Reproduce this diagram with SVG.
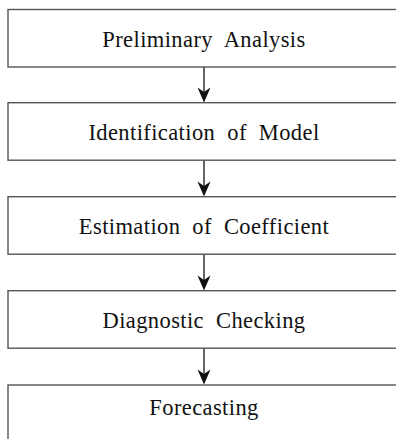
<svg xmlns="http://www.w3.org/2000/svg" width="396" height="439" viewBox="0 0 396 439">
<style>
.box{fill:#fff;stroke:#555;stroke-width:1.4}
.lbl{font-family:"Liberation Serif","Times New Roman",serif;font-size:22.5px;fill:#111;text-anchor:middle;letter-spacing:0.4px;word-spacing:6px}
.edge{stroke:#111;stroke-width:1.3;fill:none}
.head{fill:#111}
</style>
<rect width="396" height="439" fill="#fff"/>
<g id="connectors">
<line class="edge" x1="204" y1="67" x2="204" y2="96"/>
<path class="head" d="M204,102.5 L197.5,87.5 L204,92 L210.5,87.5 Z"/>
<line class="edge" x1="204" y1="160" x2="204" y2="190"/>
<path class="head" d="M204,196.5 L197.5,181.5 L204,186 L210.5,181.5 Z"/>
<line class="edge" x1="204" y1="254" x2="204" y2="284"/>
<path class="head" d="M204,290.5 L197.5,275.5 L204,280 L210.5,275.5 Z"/>
<line class="edge" x1="204" y1="348" x2="204" y2="378"/>
<path class="head" d="M204,384.5 L197.5,369.5 L204,374 L210.5,369.5 Z"/>
</g>
<g id="n1"><rect class="box" x="8" y="9.5" width="400" height="57.5"/><text class="lbl" x="204" y="46.7">Preliminary Analysis</text></g>
<g id="n2"><rect class="box" x="8" y="102.7" width="400" height="57.5"/><text class="lbl" x="204" y="139.8">Identification of Model</text></g>
<g id="n3"><rect class="box" x="8" y="196.7" width="400" height="57.5"/><text class="lbl" x="204" y="233.8">Estimation of Coefficient</text></g>
<g id="n4"><rect class="box" x="8" y="290.7" width="400" height="57.5"/><text class="lbl" x="204" y="327.8">Diagnostic Checking</text></g>
<g id="n5"><rect class="box" x="8" y="385" width="400" height="80"/><text class="lbl" x="204" y="415">Forecasting</text></g>
</svg>
